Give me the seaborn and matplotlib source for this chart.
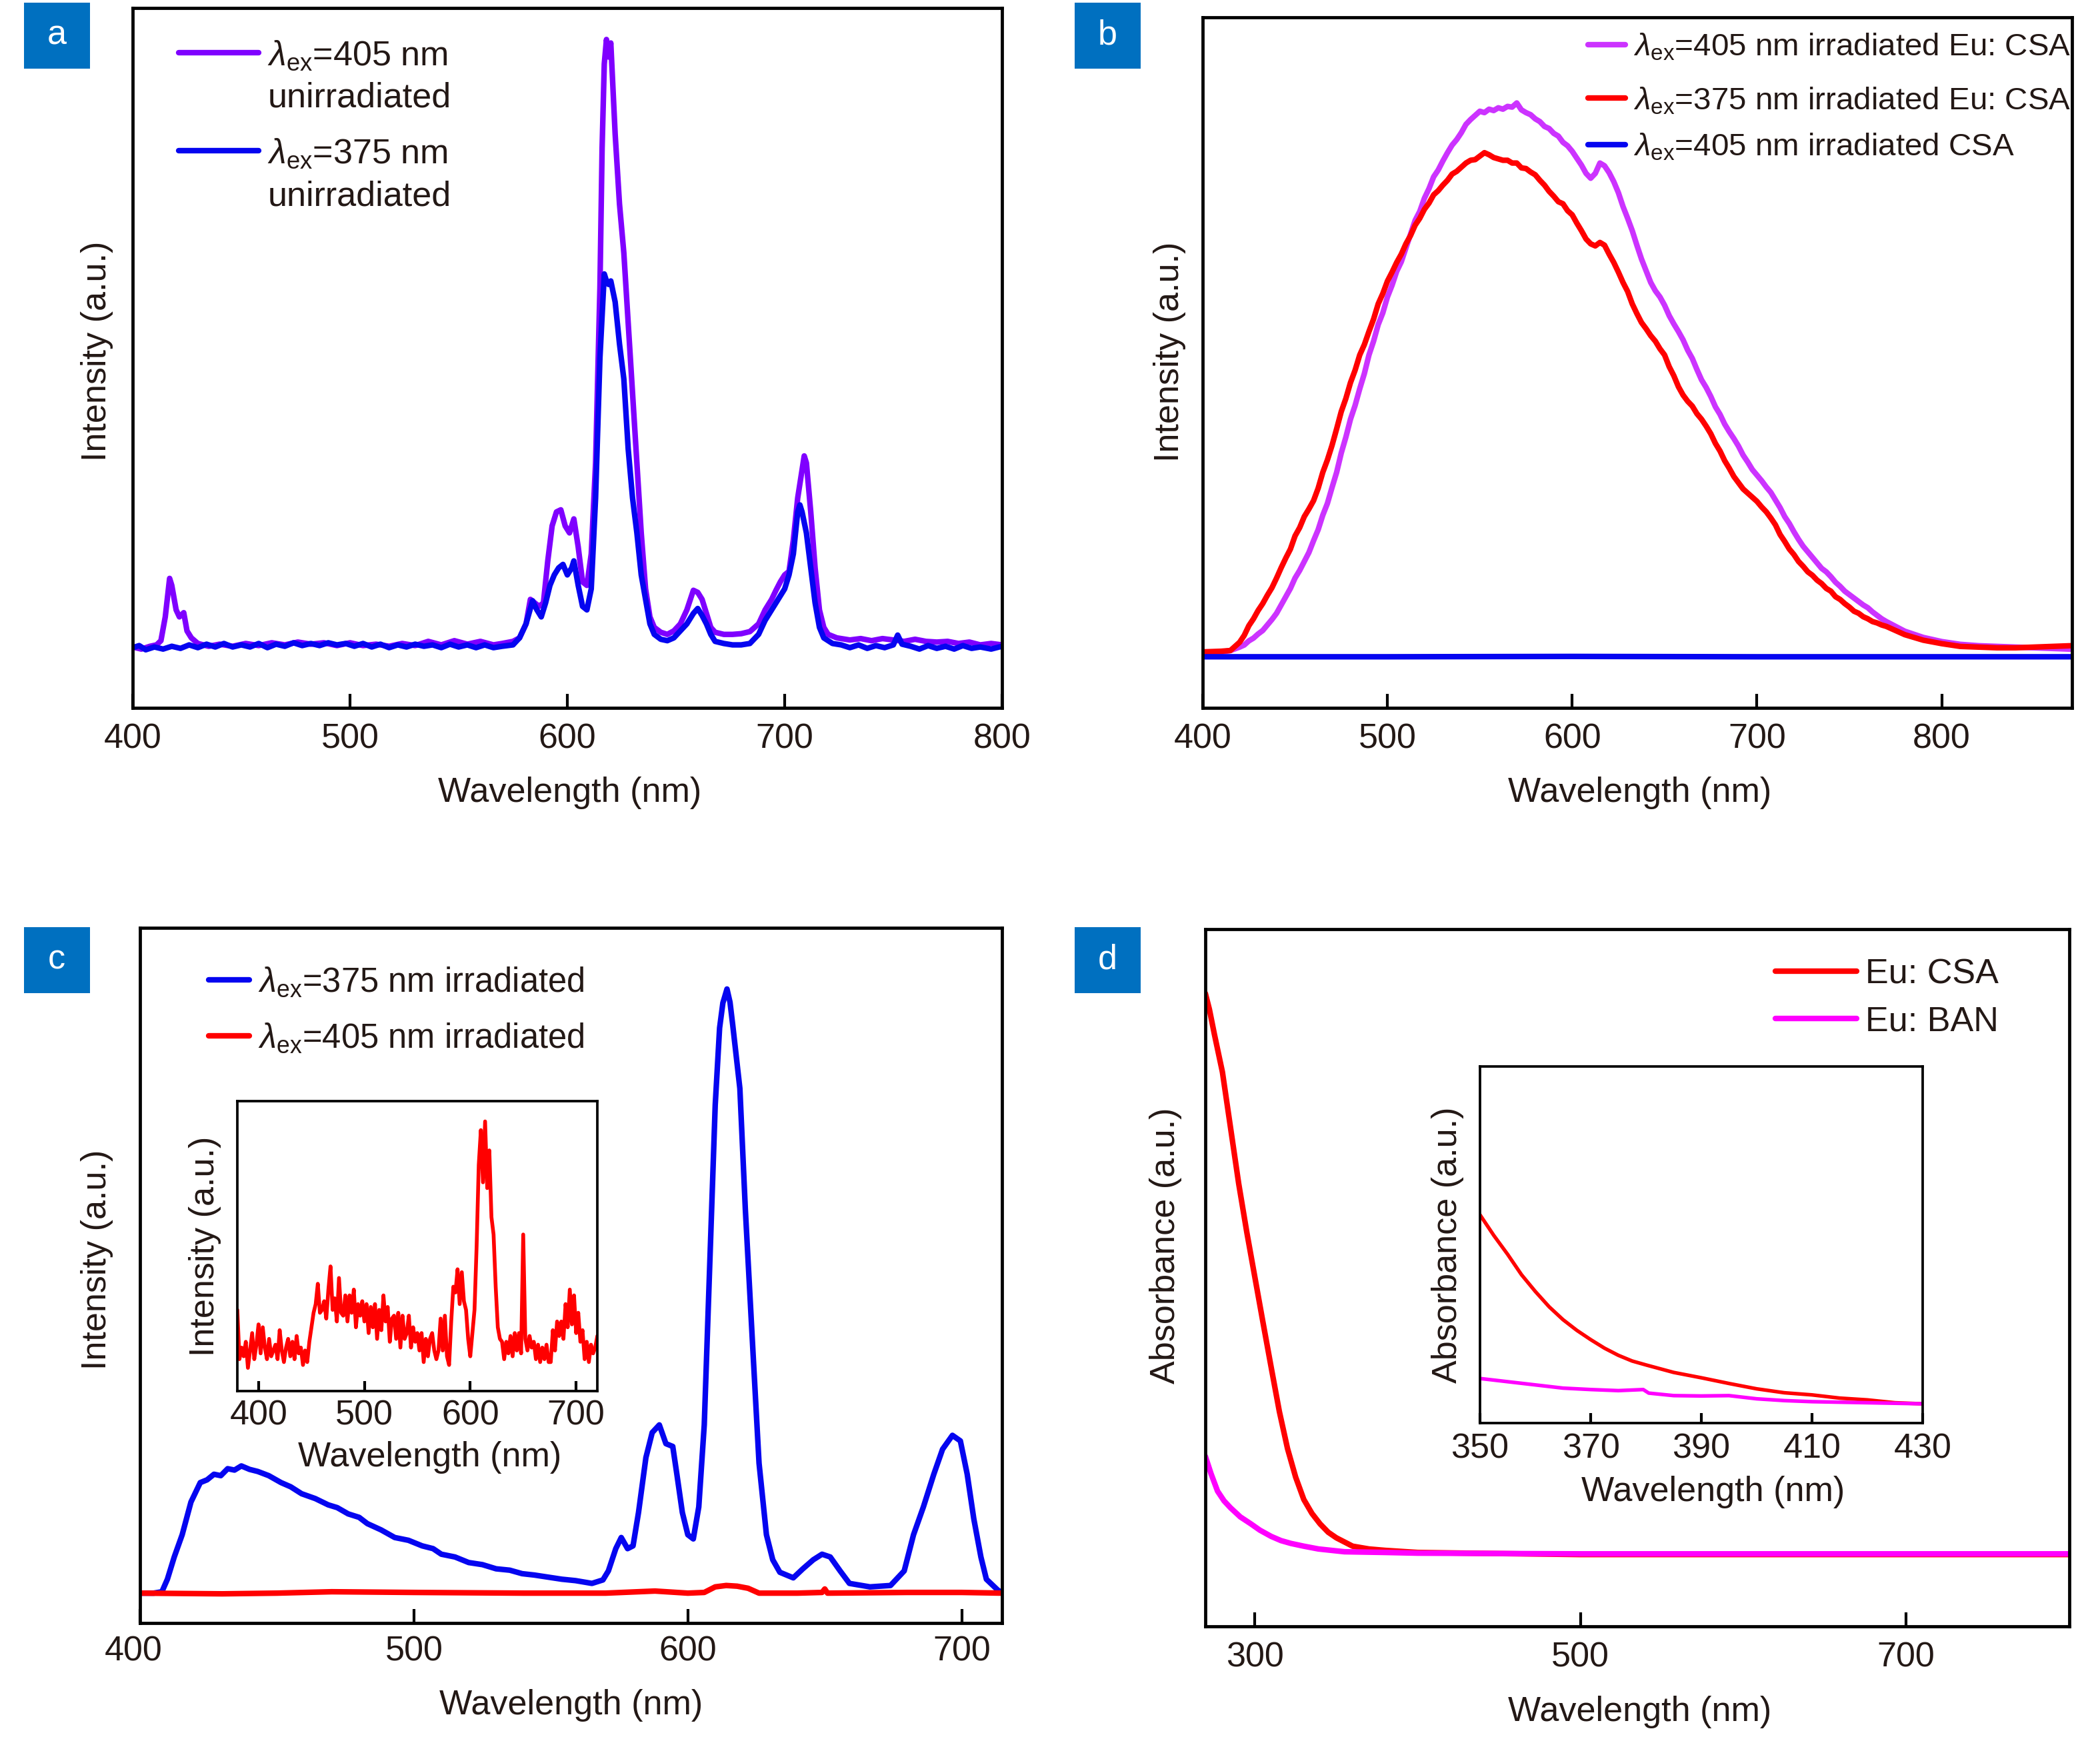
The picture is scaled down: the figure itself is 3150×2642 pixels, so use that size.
import matplotlib
matplotlib.use('Agg')
import matplotlib.pyplot as plt
from matplotlib.patches import Rectangle
from matplotlib.transforms import ScaledTranslation
import seaborn as sns

W, H = 3150, 2642
TEXT = '#231815'
FS = 12.5

# panel a
a_x_405 = [400, 404, 408, 411, 413, 415, 417, 418, 420, 421.5, 423.5, 425, 427, 430, 435, 440, 446, 452, 458, 464, 470, 476, 482, 488, 494, 500, 506, 512, 518, 524, 530, 536, 542, 548, 554, 560, 566, 570, 575, 578, 581, 583, 585, 587, 589, 591, 593, 595, 597, 599, 601, 603, 605, 607, 609, 611, 613, 615, 616, 617, 618, 619, 620, 622, 624, 626, 628, 630, 632, 634, 636, 638, 640, 643, 646, 649, 652, 655, 658, 660, 662, 664, 666, 668, 672, 676, 680, 684, 688, 691, 694, 696, 698, 700, 702, 704, 706, 708, 709, 710, 712, 714, 716, 718, 720, 724, 730, 735, 740, 745, 750, 755, 760, 765, 770, 775, 780, 785, 790, 795, 800]
a_y_405 = [8.7, 8.4, 8.8, 9.0, 9.6, 13, 18.5, 17.5, 14, 13, 13.6, 11, 10, 9.2, 8.8, 9.1, 8.8, 9.2, 8.9, 9.3, 9.0, 9.4, 9.1, 9.3, 8.9, 9.3, 8.9, 9.1, 8.8, 9.2, 8.9, 9.5, 9.0, 9.6, 9.1, 9.5, 9.0, 9.2, 9.5, 10, 12, 15.5, 15, 14.5, 15, 21, 26, 28, 28.3, 26, 25, 27, 23, 18, 17.5, 22, 35, 60, 80, 92, 95.5, 93, 95, 82, 72, 65, 55, 45, 35, 25, 17, 13, 11.5, 10.8, 10.5, 11, 12, 14, 16.8, 16.5, 15.5, 13.5, 11.5, 10.8, 10.5, 10.5, 10.6, 10.9, 12, 14, 15.5, 16.8, 18, 19, 19.5, 24, 30, 34, 36, 35, 28, 20, 14, 11.5, 10.5, 10, 9.7, 9.9, 9.6, 9.9, 9.7, 9.5, 9.8, 9.5, 9.4, 9.5, 9.2, 9.4, 9.0, 9.2, 9.0]
a_x_375 = [400, 403, 406, 410, 414, 418, 422, 426, 430, 434, 438, 442, 446, 450, 454, 458, 462, 466, 470, 474, 478, 482, 486, 490, 494, 498, 502, 506, 510, 514, 518, 522, 526, 530, 534, 538, 542, 546, 550, 554, 558, 562, 566, 570, 575, 578, 581, 584, 586, 588, 590, 592, 594, 596, 598, 600, 602, 603, 605, 607, 609, 611, 613, 615, 617, 618, 619, 620, 622, 624, 626, 628, 630, 632, 634, 636, 638, 640, 643, 646, 649, 652, 655, 658, 660, 662, 664, 666, 668, 672, 676, 680, 684, 688, 691, 694, 697, 700, 702, 704, 705, 706, 707, 708, 710, 712, 714, 716, 718, 722, 726, 730, 734, 738, 742, 746, 750, 752, 754, 758, 762, 766, 770, 774, 778, 782, 786, 790, 795, 800]
a_y_375 = [8.6, 8.9, 8.3, 8.7, 8.4, 8.8, 8.5, 9.0, 8.6, 9.1, 8.7, 9.2, 8.7, 9.0, 8.7, 9.2, 8.6, 9.1, 8.8, 9.3, 8.9, 9.2, 8.9, 9.3, 9.0, 9.2, 8.8, 9.2, 8.7, 9.1, 8.6, 9.0, 8.7, 9.1, 8.8, 9.0, 8.6, 9.1, 8.7, 9.0, 8.6, 9.0, 8.6, 8.8, 9, 10, 12, 15.3, 14, 13, 15, 17.5, 19, 20, 20.5, 19, 20, 21, 17.5, 14.5, 14, 17, 30, 50, 62, 61, 60.5, 61, 58, 52, 47, 37, 30, 25, 19, 15.5, 12, 10.5, 9.8, 9.6, 10, 11, 12, 13.5, 14.2, 13.2, 12, 10.5, 9.5, 9.2, 9, 9, 9.2, 10.5, 12.5, 14, 15.5, 17, 19, 22, 25, 28, 29, 28, 25, 20, 15, 11.5, 10, 9.2, 9.0, 8.6, 9.0, 8.5, 8.9, 8.6, 9.0, 10.4, 9.1, 8.8, 8.4, 8.9, 8.5, 8.8, 8.4, 8.9, 8.5, 8.7, 8.4, 8.8]

# panel b
b_x = [400, 410, 415,
       420, 422.5, 425, 427.5, 430, 432.5, 435, 437.5, 440, 442.5, 445, 447.5, 450, 452.5, 455, 457.5,
       460, 462.5, 465, 467.5, 470, 472.5, 475, 477.5, 480, 482.5, 485, 487.5, 490, 492.5, 495, 497.5,
       500, 502.5, 505, 507.5, 510, 512.5, 515, 517.5, 520, 522.5, 525, 527.5, 530, 532.5, 535, 537.5,
       540, 542.5, 545, 547.5, 550, 552.5, 555, 557.5, 560, 562.5, 565, 567.5, 570, 572.5, 575, 577.5,
       580, 582.5, 585, 587.5, 590, 592.5, 595, 597.5, 600, 602.5, 605, 607.5, 610, 612.5, 615, 617.5,
       620, 622.5, 625, 627.5, 630, 632.5, 635, 637.5, 640, 642.5, 645, 647.5, 650, 652.5, 655, 657.5,
       660, 662.5, 665, 667.5, 670, 672.5, 675, 677.5, 680, 682.5, 685, 687.5, 690, 692.5, 695, 697.5,
       700, 702.5, 705, 707.5, 710, 712.5, 715, 717.5, 720, 722.5, 725, 727.5, 730, 732.5, 735, 737.5,
       740, 742.5, 745, 747.5, 750, 752.5, 755, 757.5, 760, 762.5, 765, 767.5, 770,
       780, 790, 800, 810, 820, 830, 840, 850, 860, 870]
b_y_405 = [8.1, 8.1, 8.3,
           8.8, 9.1, 9.7, 10.1, 10.7, 11.2, 12.0, 12.8, 13.7, 14.9, 16.1, 17.3, 18.8, 19.9, 21.2, 22.5,
           24.2, 25.8, 27.9, 29.6, 31.9, 34.1, 36.9, 39.2, 41.8, 43.8, 46.2, 48.4, 51.1, 53.1, 55.5, 57.2,
           59.5, 61.2, 63.2, 64.6, 66.6, 68.6, 70.6, 71.9, 73.8, 75.2, 76.9, 77.9, 79.2, 80.4, 81.5, 82.3,
           83.3, 84.5, 85.2, 85.8, 86.4, 86.2, 86.7, 86.5, 86.9, 86.7, 87.1, 87.0, 87.6, 86.6, 86.2, 85.9,
           85.3, 84.9, 84.2, 83.9, 83.2, 82.8, 81.9, 81.4, 80.6, 79.6, 78.6, 77.4, 76.7, 77.4, 78.9, 78.5,
           77.5, 76.2, 74.6, 72.6, 70.9, 69.1, 67.0, 65.0, 63.3, 61.6, 60.4, 59.5, 58.3, 56.8, 55.6, 54.5,
           53.3, 51.8, 50.6, 49.0, 47.5, 46.4, 45.1, 43.6, 42.5, 41.1, 40.0, 39.0, 37.9, 36.6, 35.6, 34.5,
           33.7, 32.9, 32.0, 31.2, 30.1, 29.0, 27.7, 26.7, 25.5, 24.4, 23.4, 22.6, 21.8, 21.0, 20.2, 19.7,
           19.0, 18.2, 17.6, 16.9, 16.4, 15.9, 15.4, 14.9, 14.5, 13.9, 13.4, 12.9, 12.5,
           11.1, 10.2, 9.6, 9.2, 9, 8.9, 8.8, 8.7, 8.6, 8.5]
b_y_375 = [8.1, 8.2, 8.3,
           9.5, 10.5, 11.9, 12.9, 14.1, 15.1, 16.3, 17.4, 18.8, 20.3, 21.7, 23.0, 24.9, 26.1, 27.7, 28.8,
           30.0, 31.8, 34.1, 35.9, 38.0, 40.4, 42.9, 44.8, 47.1, 48.9, 51.1, 52.6, 54.5, 56.3, 58.5, 60.0,
           61.8, 63.1, 64.5, 65.7, 67.2, 68.4, 69.9, 70.9, 72.2, 73.1, 74.3, 74.9, 75.7, 76.4, 77.3, 77.7,
           78.3, 78.9, 79.3, 79.4, 79.9, 80.4, 80.1, 79.7, 79.5, 79.3, 79.3, 78.9, 78.9, 78.2, 78.1, 77.6,
           77.2, 76.4, 75.7, 74.8, 74.1, 73.3, 73.0, 72.0, 71.4, 70.2, 69.1, 67.9, 67.2, 66.9, 67.4, 67.0,
           65.7, 64.5, 63.1, 61.6, 60.3, 58.5, 57.1, 55.8, 54.9, 53.9, 53.1, 52.0, 51.1, 49.4, 48.1, 46.5,
           45.3, 44.4, 43.7, 42.6, 41.8, 40.8, 39.7, 38.3, 37.2, 35.8, 34.7, 33.5, 32.6, 31.7, 31.1, 30.5,
           29.9, 29.1, 28.4, 27.5, 26.5, 25.1, 24.1, 23.0, 22.2, 21.2, 20.5, 19.7, 19.2, 18.5, 18.0, 17.3,
           16.9, 16.1, 15.7, 15.1, 14.6, 14.0, 13.7, 13.2, 12.9, 12.5, 12.3, 12.0, 11.8,
           10.6, 9.8, 9.3, 8.9, 8.8, 8.7, 8.7, 8.8, 8.9, 9]
b_x_csa = [400, 500, 600, 700, 800, 870]
b_y_csa = [7.4, 7.4, 7.45, 7.4, 7.4, 7.4]

# panel c
c_x_375 = [400, 405, 408, 410, 412.5, 415.4, 418.6, 422, 424.5, 427, 429.5, 432, 434.5, 437, 440, 443, 447, 451.5, 455, 459, 464, 468.7, 472, 476, 480, 483, 488, 493, 498, 503, 507, 510, 515, 520, 525, 530, 535, 539.5, 544, 549, 554, 559, 565, 569, 571, 573.7, 575.7, 578, 580, 582, 584.7, 587, 589.6, 592, 594.5, 596, 598, 600, 602, 604, 606, 608, 610, 611.6, 612.8, 614.3, 615.4, 616.4, 619, 621, 623.8, 626, 628.7, 631, 633.6, 638.5, 642, 645.8, 649, 652, 655.6, 659, 666.5, 674, 679, 682.4, 686, 689.8, 693, 696.6, 699.5, 702, 704.4, 707, 709, 713, 714.7]
c_y_375 = [4.3, 4.3, 4.5, 6.3, 9.5, 12.7, 17.4, 20.2, 20.6, 21.4, 21.2, 22.2, 22.0, 22.6, 22.1, 21.8, 21.2, 20.2, 19.6, 18.6, 17.9, 17, 16.6, 15.7, 15.2, 14.3, 13.4, 12.3, 11.9, 11.1, 10.7, 9.9, 9.5, 8.7, 8.4, 7.8, 7.6, 7.1, 6.9, 6.6, 6.3, 6.1, 5.7, 6.2, 7.5, 10.7, 12.3, 10.7, 11.1, 15.9, 23.8, 27.4, 28.5, 25.8, 25.4, 21.4, 15.9, 12.7, 12.1, 16.7, 28.5, 51.5, 74.5, 85.6, 89.2, 91.2, 89.3, 86, 76.9, 59.5, 38.9, 23, 12.7, 9.1, 7.3, 6.5, 7.8, 9.1, 9.9, 9.5, 7.5, 5.7, 5.2, 5.4, 7.5, 12.7, 16.7, 21.4, 25, 27, 26.2, 21.4, 15, 9.5, 6.3, 4.8, 4.3]
c_x_405 = [400, 430, 450, 470, 500, 540, 570, 588, 600, 606, 610, 614, 618, 622, 626, 640, 649, 650, 651, 680, 700, 714.7]
c_y_405 = [4.3, 4.2, 4.3, 4.5, 4.4, 4.3, 4.3, 4.6, 4.3, 4.4, 5.2, 5.4, 5.3, 5.0, 4.3, 4.3, 4.4, 4.9, 4.3, 4.4, 4.4, 4.3]

# panel c inset
c2_x = [380, 382, 384, 386, 388, 390, 392, 394, 396, 398,
        400, 402, 404, 406, 408, 410, 412, 414, 416, 418,
        420, 422, 424, 426, 428, 430, 432, 434, 436, 438,
        440, 442, 444, 446, 448, 450, 452, 454, 456, 458,
        460, 462, 464, 466, 468, 470, 472, 474, 476, 478,
        480, 482, 484, 486, 488, 490, 492, 494, 496, 498,
        500, 502, 504, 506, 508, 510, 512, 514, 516, 518,
        520, 522, 524, 526, 528, 530, 532, 534, 536, 538,
        540, 542, 544, 546, 548, 550, 552, 554, 556, 558,
        560, 562, 564, 566, 568, 570, 572, 574, 576, 578,
        580, 582, 584, 586, 588, 590, 592, 594, 596, 598,
        600, 602, 604, 606, 608, 610, 612, 614, 616, 618,
        620, 622, 624, 626, 628, 630, 632, 634, 636, 638,
        640, 642, 644, 646, 648, 650, 652, 654, 656, 658,
        660, 662, 664, 666, 668, 670, 672, 674, 676, 678,
        680, 682, 684, 686, 688, 690, 692, 694, 696, 698,
        700, 702, 704, 706, 708, 710, 712, 714, 716, 718, 720]
c2_y = [28, 11, 15, 12, 17, 8, 14, 20, 11, 16,
        23, 13, 22, 15, 11, 18, 12, 14, 16, 11,
        21, 14, 10, 15, 18, 12, 17, 11, 19, 13,
        15, 9, 14, 10, 17, 22, 27, 30, 37, 27,
        28, 31, 25, 35, 43, 28, 32, 24, 39, 27,
        26, 33, 24, 33, 27, 35, 22, 30, 26, 31,
        24, 30, 20, 29, 22, 30, 18, 28, 21, 33,
        24, 29, 17, 25, 26, 18, 27, 15, 26, 18,
        20, 26, 15, 22, 17, 20, 14, 20, 10, 18,
        12, 18, 20, 14, 11, 14, 25, 14, 26, 12,
        9, 24, 36, 34, 42, 30, 41, 31, 28, 18,
        12, 20, 28, 50, 78, 90, 72, 93, 70, 83,
        60, 54, 36, 22, 18, 17, 11, 17, 13, 19,
        12, 20, 14, 20, 13, 54, 18, 14, 19, 15,
        17, 11, 16, 10, 15, 11, 16, 10, 10, 21,
        14, 24, 19, 24, 18, 30, 22, 35, 23, 33,
        20, 27, 17, 21, 11, 17, 10, 16, 13, 15, 19]

# panel d
d_x_csa = [269.5, 272, 275, 280, 285, 290, 295, 300, 305, 310, 315, 320, 325, 330, 335, 340, 345, 350, 360, 370, 380, 400, 430, 500, 600, 700, 800]
d_y_csa = [90.8, 88.5, 85, 79.5, 71.5, 63.5, 56.5, 50, 43.5, 37.1, 30.8, 25.5, 21.4, 18.2, 16.2, 14.7, 13.5, 12.7, 11.5, 11.1, 10.9, 10.6, 10.5, 10.3, 10.3, 10.3, 10.3]
d_x_ban = [269.5, 273, 277, 281, 285, 291, 297.5, 303, 310, 316, 322, 330, 339, 347, 355, 380, 400, 500, 600, 700, 800]
d_y_ban = [24.4, 21.9, 19.4, 18.0, 17.0, 15.7, 14.7, 13.8, 12.9, 12.3, 11.9, 11.5, 11.1, 10.9, 10.7, 10.6, 10.5, 10.4, 10.4, 10.4, 10.4]

# panel d inset
d2_x_csa = [350, 352.5, 355, 357.5, 360, 362.5, 365, 367.5, 370, 372.5, 375, 377.5, 380, 385, 390, 395, 400, 405, 410, 415, 420, 425, 430]
d2_y_csa = [58.4, 52.6, 47.3, 41.6, 36.9, 32.6, 29, 26, 23.4, 21, 19, 17.4, 16.3, 14.2, 12.7, 11.1, 9.6, 8.5, 7.9, 7, 6.5, 5.7, 5.4]
d2_x_ban = [350, 355, 360, 365, 370, 375, 379.5, 380.5, 385, 390, 395, 400, 405, 410, 420, 430]
d2_y_ban = [12.5, 11.6, 10.7, 9.8, 9.4, 9.1, 9.4, 8.4, 7.7, 7.6, 7.7, 6.8, 6.3, 6, 5.7, 5.4]

sns.set_theme(style='ticks')
plt.rcParams['font.family'] = ['Liberation Sans', 'DejaVu Sans']
plt.rcParams['mathtext.fontset'] = 'custom'
plt.rcParams['mathtext.rm'] = 'Liberation Sans'
plt.rcParams['mathtext.it'] = 'Liberation Sans:italic'
plt.rcParams['mathtext.default'] = 'regular'

fig = plt.figure(figsize=(W / 300, H / 300), dpi=300)


def make_axes(l, t, r, b, xlim, xticks, ylabel, ylabelpad, ylabel_y=0.5, xlabel_x=0.5,
              tickpad=5.5, xlabelpad=7.5, lw=1.15, ticklen=5):
    ax = fig.add_axes([l / W, 1 - b / H, (r - l) / W, (b - t) / H])
    ax.set_xlim(*xlim)
    ax.set_ylim(0, 100)
    ax.set_xticks(xticks)
    ax.set_yticks([])
    ax.tick_params(axis='x', direction='in', length=ticklen, width=1.0, pad=tickpad,
                   labelsize=FS, labelcolor=TEXT, color='black')
    ax.set_xlabel('Wavelength (nm)', fontsize=FS, color=TEXT, labelpad=xlabelpad, x=xlabel_x)
    ax.set_ylabel(ylabel, fontsize=FS, color=TEXT, labelpad=ylabelpad, y=ylabel_y)
    for s in ax.spines.values():
        s.set_linewidth(lw)
        s.set_color('black')
    return ax


def curve(ax, x, y, color, label=None, lw=2.0):
    sns.lineplot(x=x, y=y, ax=ax, color=color, linewidth=lw, label=label,
                 estimator=None, errorbar=None, legend=False)


def legend(ax, anchor, handlelength, spacing, fs=FS, lines=None):
    lines = lines if lines is not None else ax.get_lines()
    leg = ax.legend(handles=list(lines), loc='upper left', bbox_to_anchor=anchor, frameon=False,
                    fontsize=fs, handlelength=handlelength, handletextpad=0.25,
                    labelspacing=spacing, borderpad=0, borderaxespad=0, labelcolor=TEXT)
    return leg


def panel_tag(letter, left, top):
    fig.add_artist(Rectangle((left / W, 1 - (top + 99) / H), 99 / W, 99 / H,
                             transform=fig.transFigure, color='#0070C0', lw=0))
    fig.text((left + 49) / W, 1 - (top + 49) / H, letter, color='white',
             fontsize=FS, ha='center', va='center')


lam = r'$\mathit{\lambda}_{ex}$'

ax = make_axes(199, 12, 1503, 1062, (400, 800), [400, 500, 600, 700, 800], 'Intensity (a.u.)', 7,
               ylabel_y=0.51, xlabel_x=0.503)
curve(ax, a_x_405, a_y_405, '#7F00FF', lam + '=405 nm')
curve(ax, a_x_375, a_y_375, '#0505F0', lam + '=375 nm')
legend(ax, (0.053, 0.955), 2.3, 1.87)
ax.text(0.1556, 0.8715, 'unirradiated', transform=ax.transAxes, fontsize=FS, color=TEXT, va='center')
ax.text(0.1556, 0.730, 'unirradiated', transform=ax.transAxes, fontsize=FS, color=TEXT, va='center')

ax = make_axes(1804, 26, 3108, 1062, (400, 870.5), [400, 500, 600, 700, 800], 'Intensity (a.u.)', 6,
               ylabel_y=0.516, xlabel_x=0.503)
curve(ax, b_x, b_y_405, '#CC33FF', lam + '=405 nm irradiated Eu: CSA')
curve(ax, b_x, b_y_375, '#FF0000', lam + '=375 nm irradiated Eu: CSA')
curve(ax, b_x_csa, b_y_csa, '#0505F0', lam + '=405 nm irradiated CSA')
b_lines = ax.get_lines()
first = legend(ax, (0.4435, 0.979), 1.17, 0.3, fs=11.4, lines=b_lines[:1])
ax.add_artist(first)
legend(ax, (0.4435, 0.901), 1.17, 0.5, fs=11.4, lines=b_lines[1:])

ax = make_axes(210, 1392, 1503, 2435, (400, 714.7), [400, 500, 600, 700], 'Intensity (a.u.)', 9.5,
               ylabel_y=0.523, tickpad=4.5)
curve(ax, c_x_375, c_y_375, '#0505F0', lam + '=375 nm irradiated')
curve(ax, c_x_405, c_y_405, '#FF0000', lam + '=405 nm irradiated')
legend(ax, (0.08, 0.945), 1.2, 0.66, fs=12.2)
tick400 = ax.get_xticklabels()[0]
tick400.set_transform(tick400.get_transform() + ScaledTranslation(-10 / 300, 0, fig.dpi_scale_trans))

ins = make_axes(356, 1652, 896, 2087, (380, 720), [400, 500, 600, 700], 'Intensity (a.u.)', 5.8,
                xlabel_x=0.535, tickpad=3, xlabelpad=3.2, lw=0.9, ticklen=3.5)
curve(ins, c2_x, c2_y, '#FF0000', lw=1.35)

ax = make_axes(1808, 1394, 3104, 2440, (269.5, 800.4), [300, 500, 700], 'Absorbance (a.u.)', 8.3,
               ylabel_y=0.546, xlabel_x=0.503, xlabelpad=7.7)
curve(ax, d_x_csa, d_y_csa, '#FF0000', 'Eu: CSA')
curve(ax, d_x_ban, d_y_ban, '#FF00FF', 'Eu: BAN')
legend(ax, (0.66, 0.9585), 2.33, 0.42)

ins = make_axes(2220, 1600, 2884, 2135, (350, 430), [350, 370, 390, 410, 430], 'Absorbance (a.u.)', 5.8,
                xlabel_x=0.527, tickpad=3.6, xlabelpad=3.7, lw=0.9, ticklen=3.5)
curve(ins, d2_x_csa, d2_y_csa, '#FF0000', lw=1.3)
curve(ins, d2_x_ban, d2_y_ban, '#FF00FF', lw=1.3)

panel_tag('a', 36, 4)
panel_tag('b', 1612, 4)
panel_tag('c', 36, 1391)
panel_tag('d', 1612, 1391)

fig.savefig('out.png', dpi=300, facecolor='white')
